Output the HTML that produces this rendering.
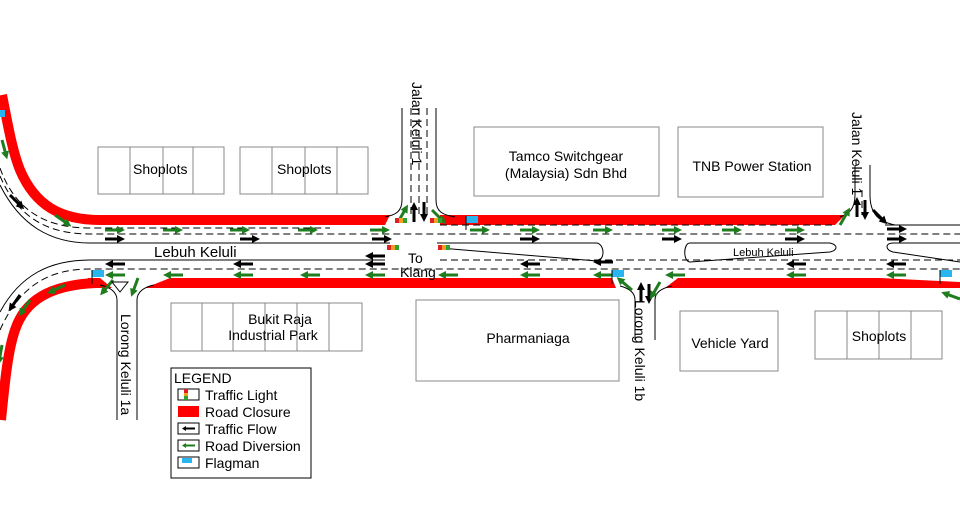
<!DOCTYPE html>
<html><head><meta charset="utf-8"><style>
html,body{margin:0;padding:0;background:#fff}
svg{display:block}
text{font-family:"Liberation Sans",Arial,sans-serif;fill:#000}
</style></head><body>
<svg width="960" height="517" viewBox="0 0 960 517" xmlns="http://www.w3.org/2000/svg">
<defs>
<g id="g"><line x1="0" y1="0" x2="14" y2="0" stroke="#1f7d1f" stroke-width="3"/><polygon points="12,-4 20,0 12,4" fill="#1f7d1f"/></g>
<g id="b"><line x1="0" y1="0" x2="14" y2="0" stroke="#000" stroke-width="3"/><polygon points="12,-4 20,0 12,4" fill="#000"/></g>
<g id="tl"><rect x="0" y="0" width="4" height="5" fill="#e02020"/><rect x="4" y="0" width="4" height="5" fill="#f0a020"/><rect x="8" y="0" width="4" height="5" fill="#30a030"/></g>
<g id="fl"><rect x="0" y="0" width="12" height="7" fill="#29b6f0"/><line x1="0" y1="0" x2="0" y2="14" stroke="#000" stroke-width="1"/></g>
</defs>

<!-- buildings -->
<g fill="none" stroke="#888" stroke-width="1">
<rect x="98" y="147" width="126" height="47"/><line x1="130" y1="147" x2="130" y2="194"/><line x1="163" y1="147" x2="163" y2="194"/><line x1="193" y1="147" x2="193" y2="194"/>
<rect x="240" y="147" width="128" height="47"/><line x1="272" y1="147" x2="272" y2="194"/><line x1="305" y1="147" x2="305" y2="194"/><line x1="337" y1="147" x2="337" y2="194"/>
<rect x="474" y="127" width="185" height="69"/>
<rect x="678" y="127" width="145" height="70"/>
<rect x="171" y="303" width="191" height="48"/><line x1="202" y1="303" x2="202" y2="351"/><line x1="233" y1="303" x2="233" y2="351"/><line x1="265" y1="303" x2="265" y2="351"/><line x1="297" y1="303" x2="297" y2="351"/><line x1="329" y1="303" x2="329" y2="351"/>
<rect x="416" y="300" width="203" height="81"/>
<rect x="680" y="311" width="98" height="60"/>
<rect x="815" y="311" width="127" height="48"/><line x1="847" y1="311" x2="847" y2="359"/><line x1="879" y1="311" x2="879" y2="359"/><line x1="911" y1="311" x2="911" y2="359"/>
</g>

<!-- red closures -->
<g fill="none" stroke="#ff0000" stroke-width="10">
<path d="M2,95 C8,125 12,150 20,170 C35,205 60,220 100,220 L330,220"/>
<path d="M96,283 C50,285 25,300 15,330 C8,350 5,380 1,420"/>
</g>
<g fill="#ff0000">
<path d="M320,215 L390,215 L385,225 L320,225 Z"/>
<path d="M440,215 L845,215 L835,225 L440,225 Z"/>
<path d="M88,278 L100,278 L112,288 L88,288 Z"/>
<path d="M145,288 L170,278 L612,278 L616,288 Z"/>
<path d="M665,288 L678,278 L880,278 L960,282 L960,288 Z"/>
</g>

<!-- road lines -->
<g fill="none" stroke="#000" stroke-width="1">
<path d="M0,185 C20,225 50,243 90,243 L390,243"/>
<path d="M0,312 C20,275 50,260 90,260 L385,260"/>
<line x1="437" y1="243" x2="597" y2="243"/>
<path d="M597,243 C605,245 605,260 597,261 L440,248"/>
<path d="M690,243 L830,243 C838,245 838,250 830,252 L690,262 C683,262 683,243 690,243"/>
<path d="M893,243 C885,243 885,250 893,252 L960,262"/>
<line x1="893" y1="243" x2="960" y2="243"/>
<line x1="885" y1="225" x2="960" y2="225"/>
<path d="M402,108 L402,200 C402,212 395,215 385,217"/>
<path d="M436,108 L436,200 C436,212 443,215 455,217"/>
<path d="M855,165 L855,195 C855,210 848,214 840,217"/>
<path d="M870,165 L870,195 C870,215 880,222 895,225"/>
<path d="M117,420 L117,300 C117,292 110,287 100,285"/>
<path d="M137,420 L137,300 C137,292 144,287 154,285"/>
<path d="M635,340 L635,300 C635,292 628,288 620,286"/>
<path d="M655,340 L655,300 C655,292 662,288 672,286"/>
</g>
<g fill="none" stroke="#000" stroke-width="1" stroke-dasharray="7,4">
<path d="M0,168 C15,210 45,228 90,228 L330,228"/>
<path d="M0,176 C18,218 48,234 90,234 L960,234"/>
<path d="M0,330 C20,285 50,269 90,269 L960,269"/>
<line x1="440" y1="225" x2="835" y2="225"/>
<line x1="440" y1="260" x2="600" y2="260"/>
<line x1="605" y1="260" x2="960" y2="260"/>
<line x1="411" y1="108" x2="411" y2="215"/><line x1="419" y1="108" x2="419" y2="215"/><line x1="427" y1="108" x2="427" y2="215"/>
<line x1="862" y1="190" x2="862" y2="215"/>
</g>

<!-- arrows right -->
<use href="#g" transform="translate(55,215) rotate(35)"/>
<use href="#g" transform="translate(105,230)"/><use href="#g" transform="translate(163,230)"/><use href="#g" transform="translate(230,230)"/><use href="#g" transform="translate(298,230)"/><use href="#g" transform="translate(370,230)"/>
<use href="#g" transform="translate(470,230)"/><use href="#g" transform="translate(520,230)"/><use href="#g" transform="translate(593,230)"/><use href="#g" transform="translate(662,230)"/><use href="#g" transform="translate(722,230)"/><use href="#g" transform="translate(785,230)"/>
<use href="#b" transform="translate(105,239)"/><use href="#b" transform="translate(240,239)"/><use href="#b" transform="translate(372,239)"/><use href="#b" transform="translate(520,239)"/><use href="#b" transform="translate(662,239)"/><use href="#b" transform="translate(785,239)"/>
<use href="#b" transform="translate(887,229)"/><use href="#b" transform="translate(887,239)"/>
<use href="#b" transform="translate(10,195) rotate(45)"/>
<use href="#g" transform="translate(2,140) rotate(75)"/>
<g transform="scale(-1,1)">
<use href="#b" transform="translate(-125,264)"/><use href="#b" transform="translate(-253,264)"/><use href="#b" transform="translate(-385,256)"/><use href="#b" transform="translate(-385,264)"/>
<use href="#b" transform="translate(-540,264)"/><use href="#b" transform="translate(-613,262)"/><use href="#b" transform="translate(-806,264)"/><use href="#b" transform="translate(-906,264)"/>
<use href="#g" transform="translate(-125,275)"/><use href="#g" transform="translate(-183,275)"/><use href="#g" transform="translate(-253,275)"/><use href="#g" transform="translate(-320,275)"/><use href="#g" transform="translate(-385,275)"/><use href="#g" transform="translate(-458,275)"/><use href="#g" transform="translate(-540,275)"/><use href="#g" transform="translate(-613,275)"/><use href="#g" transform="translate(-685,275)"/><use href="#g" transform="translate(-806,275)"/><use href="#g" transform="translate(-906,275)"/>
</g>
<use href="#b" transform="translate(20,295) rotate(125)"/>
<use href="#g" transform="translate(65,285) rotate(155)"/>
<use href="#g" transform="translate(30,300) rotate(125)"/>
<use href="#g" transform="translate(2,345) rotate(100)"/>
<use href="#b" transform="translate(414,222) rotate(-90)"/><use href="#b" transform="translate(424,202) rotate(90)"/>
<use href="#b" transform="translate(857,217) rotate(-90)"/><use href="#b" transform="translate(865,200) rotate(90)"/>
<use href="#b" transform="translate(641,302) rotate(-90)"/><use href="#b" transform="translate(649,284) rotate(90)"/>
<use href="#g" transform="translate(398,222) rotate(-60)"/><use href="#g" transform="translate(432,210) rotate(45)"/>
<use href="#g" transform="translate(840,225) rotate(-60)"/><use href="#b" transform="translate(873,210) rotate(45)"/>
<use href="#g" transform="translate(113,280) rotate(130)"/><use href="#g" transform="translate(138,278) rotate(110)"/>
<use href="#g" transform="translate(632,290) rotate(-140)"/><use href="#g" transform="translate(660,282) rotate(120)"/>
<use href="#g" transform="scale(-1,1) translate(-960,299) rotate(-20)"/>
<polygon points="112,282 128,282 120,292" fill="none" stroke="#000"/>

<use href="#tl" x="395" y="218"/><use href="#tl" x="430" y="218"/><use href="#tl" x="387" y="245"/><use href="#tl" x="438" y="245"/>
<use href="#fl" x="466" y="216"/><use href="#fl" x="92" y="270"/><use href="#fl" x="612" y="270"/><use href="#fl" x="940" y="270"/>
<rect x="0" y="110" width="5" height="7" fill="#29b6f0"/>

<g font-size="14">
<text x="133" y="174">Shoplots</text>
<text x="277" y="174">Shoplots</text>
<text x="566" y="161" text-anchor="middle">Tamco Switchgear</text>
<text x="566" y="178" text-anchor="middle">(Malaysia) Sdn Bhd</text>
<text x="752" y="171" text-anchor="middle">TNB Power Station</text>
<text x="280" y="324" text-anchor="middle">Bukit Raja</text>
<text x="273" y="340" text-anchor="middle">Industrial Park</text>
<text x="528" y="343" text-anchor="middle">Pharmaniaga</text>
<text x="730" y="348" text-anchor="middle">Vehicle Yard</text>
<text x="879" y="341" text-anchor="middle">Shoplots</text>
<text x="154" y="257" font-size="15">Lebuh Keluli</text>
<text x="408" y="263">To</text>
<text x="400" y="277">Klang</text>
</g>
<text x="733" y="256" font-size="11">Lebuh Keluli</text>
<g font-size="14">
<text transform="translate(412,82) rotate(90)">Jalan Keluli 1</text>
<text transform="translate(852,112) rotate(90)">Jalan Keluli 1</text>
<text transform="translate(121,314) rotate(90)">Lorong Keluli 1a</text>
<text transform="translate(635,300) rotate(90)">Lorong Keluli 1b</text>
</g>

<rect x="171" y="368" width="140" height="110" fill="#fff" stroke="#000"/>
<g font-size="14">
<text x="174" y="383">LEGEND</text>
<text x="205" y="400">Traffic Light</text>
<text x="205" y="417">Road Closure</text>
<text x="205" y="434">Traffic Flow</text>
<text x="205" y="451">Road Diversion</text>
<text x="205" y="468">Flagman</text>
</g>
<rect x="178" y="389" width="21" height="11" fill="none" stroke="#000"/>
<rect x="184" y="389" width="4" height="4" fill="#e02020"/><rect x="184" y="393" width="4" height="3" fill="#f0a020"/><rect x="184" y="396" width="4" height="4" fill="#30a030"/>
<rect x="178" y="406" width="21" height="11" fill="#ff0000"/>
<rect x="178" y="423" width="21" height="11" fill="none" stroke="#000"/>
<line x1="184" y1="428.5" x2="195" y2="428.5" stroke="#000" stroke-width="2"/><polygon points="182,428.5 186,426 186,431" fill="#000"/>
<rect x="178" y="440" width="21" height="11" fill="none" stroke="#000"/>
<line x1="184" y1="445.5" x2="195" y2="445.5" stroke="#1f7d1f" stroke-width="2"/><polygon points="182,445.5 186,443 186,448" fill="#1f7d1f"/>
<rect x="178" y="457" width="21" height="11" fill="none" stroke="#000"/>
<rect x="182" y="458" width="10" height="5" fill="#29b6f0"/>
</svg>
</body></html>
